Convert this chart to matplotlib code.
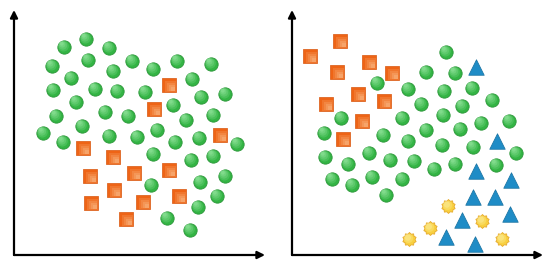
import matplotlib
matplotlib.use("Agg")
import matplotlib.pyplot as plt
import matplotlib.transforms as mtransforms
import numpy as np

# ---------------- data (unitless feature space) ----------------
left_green_x = [72, 50, 95, 38, 74, 118, 163, 197, 57, 99, 139, 178, 39, 81, 103, 131, 187, 211,
                62, 159, 42, 91, 114, 172, 199, 29, 68, 143, 49, 95, 123, 161, 185, 223, 139, 177,
                199, 137, 186, 211, 203, 184, 153, 176]
left_green_y = [216, 208, 207, 189, 195, 194, 194, 191, 177, 184, 186, 176, 165, 166, 164, 163, 158, 161,
                153, 150, 139, 143, 139, 135, 140, 122, 129, 125, 113, 119, 118, 113, 117, 111, 101, 95,
                99, 70, 73, 79, 59, 48, 37, 25]
left_orange_x = [155, 140, 206, 69, 99, 76, 120, 155, 100, 77, 129, 165, 112]
left_orange_y = [170, 146, 120, 107, 98, 79, 82, 85, 65, 52, 53, 59, 36]

right_orange_x = [48, 18, 77, 45, 100, 66, 92, 34, 70, 51]
right_orange_y = [214, 199, 193, 183, 182, 161, 154, 151, 134, 116]
right_green_x = [154, 134, 163, 85, 116, 152, 180, 200, 129, 170, 49, 110, 151, 189, 217, 32, 91, 134,
                 168, 116, 150, 181, 224, 33, 77, 56, 98, 122, 142, 163, 204, 40, 60, 80, 110, 94]
right_green_y = [203, 183, 182, 172, 166, 164, 167, 155, 151, 149, 137, 137, 140, 132, 134, 122, 120, 125,
                 126, 114, 110, 108, 102, 98, 102, 91, 95, 94, 86, 91, 90, 76, 70, 78, 76, 60]
right_blue_x = [184, 205, 184, 219, 181, 203, 218, 170, 154, 183]
right_blue_y = [188, 114, 84, 75, 58, 58, 41, 35, 18, 11]
right_yellow_x = [156, 138, 190, 117, 210]
right_yellow_y = [49, 27, 34, 16, 16]

# ---------------- styles ----------------
GREEN, GREEN_EDGE, GREEN_HI = "#33b444", "#2a9638", "#9aeaa4"
ORANGE, ORANGE_EDGE, ORANGE_HI = "#ee6416", "#d9570f", "#fcc08e"
BLUE, BLUE_EDGE = "#1f8cc6", "#17709f"
YELLOW, YELLOW_EDGE, YELLOW_HI = "#f8d040", "#e6a92a", "#fef2a8"

# sunburst marker
n = 10
ang = np.linspace(0, 2 * np.pi, 2 * n, endpoint=False) + np.pi / 2
rad = np.where(np.arange(2 * n) % 2 == 0, 1.0, 0.8)
sun_verts = list(zip(rad * np.cos(ang), rad * np.sin(ang)))
sun_verts.append(sun_verts[0])

fig = plt.figure(figsize=(5.5, 2.68), dpi=100)
fig.patch.set_facecolor("white")

W, H = 550.0, 268.0
ax_left = fig.add_axes([14 / W, 13 / H, 251 / W, 245 / H])
ax_right = fig.add_axes([292 / W, 13 / H, 251 / W, 245 / H])


def shifted(ax, dx, dy):
    return mtransforms.offset_copy(ax.transData, fig=fig, x=dx, y=dy, units="points")


def glossy_circles(ax, x, y):
    ax.scatter(x, y, s=92, c=GREEN, edgecolors=GREEN_EDGE, linewidths=0.6, zorder=3)
    for k, (s, a) in enumerate([(60, 0.22), (38, 0.25), (20, 0.3), (8, 0.4)]):
        ax.scatter(x, y, s=s, c=GREEN_HI, edgecolors="none", alpha=a, zorder=4 + k,
                   transform=shifted(ax, -0.4 * (k + 1), 0.6 * (k + 1)))


def glossy_squares(ax, x, y):
    ax.scatter(x, y, s=92, marker="s", c=ORANGE, edgecolors=ORANGE_EDGE, linewidths=0.5, zorder=3)
    for k, (s, a) in enumerate([(62, 0.2), (40, 0.22), (22, 0.28), (9, 0.35)]):
        ax.scatter(x, y, s=s, marker="s", c=ORANGE_HI, edgecolors="none", alpha=a, zorder=4 + k,
                   transform=shifted(ax, 0.75 * (k + 1), -0.75 * (k + 1)))


def triangles(ax, x, y):
    ax.scatter(x, y, s=125, marker="^", c=BLUE, edgecolors=BLUE_EDGE, linewidths=0.5, zorder=3)


def suns(ax, x, y):
    ax.scatter(x, y, s=100, marker=sun_verts, c=YELLOW, edgecolors=YELLOW_EDGE, linewidths=0.6, zorder=3)
    for k, (s, a) in enumerate([(45, 0.3), (20, 0.4)]):
        ax.scatter(x, y, s=s, marker="o", c=YELLOW_HI, edgecolors="none", alpha=a, zorder=4 + k,
                   transform=shifted(ax, -0.4 * (k + 1), 0.5 * (k + 1)))


for ax in (ax_left, ax_right):
    ax.set_xlim(0, 251)
    ax.set_ylim(0, 245)
    for sp in ax.spines.values():
        sp.set_visible(False)
    ax.set_xticks([])
    ax.set_yticks([])
    ax.patch.set_alpha(0)
    arrow = dict(arrowstyle="-|>", lw=1.6, color="black", mutation_scale=11, shrinkA=0, shrinkB=0)
    ax.annotate("", xy=(0, 1.0), xytext=(0, 0), xycoords="axes fraction", arrowprops=arrow, annotation_clip=False)
    ax.annotate("", xy=(1.0, 0), xytext=(0, 0), xycoords="axes fraction", arrowprops=arrow, annotation_clip=False)

glossy_circles(ax_left, left_green_x, left_green_y)
glossy_squares(ax_left, left_orange_x, left_orange_y)

glossy_squares(ax_right, right_orange_x, right_orange_y)
glossy_circles(ax_right, right_green_x, right_green_y)
triangles(ax_right, right_blue_x, right_blue_y)
suns(ax_right, right_yellow_x, right_yellow_y)

fig.savefig("out.png", dpi=100, facecolor="white")
